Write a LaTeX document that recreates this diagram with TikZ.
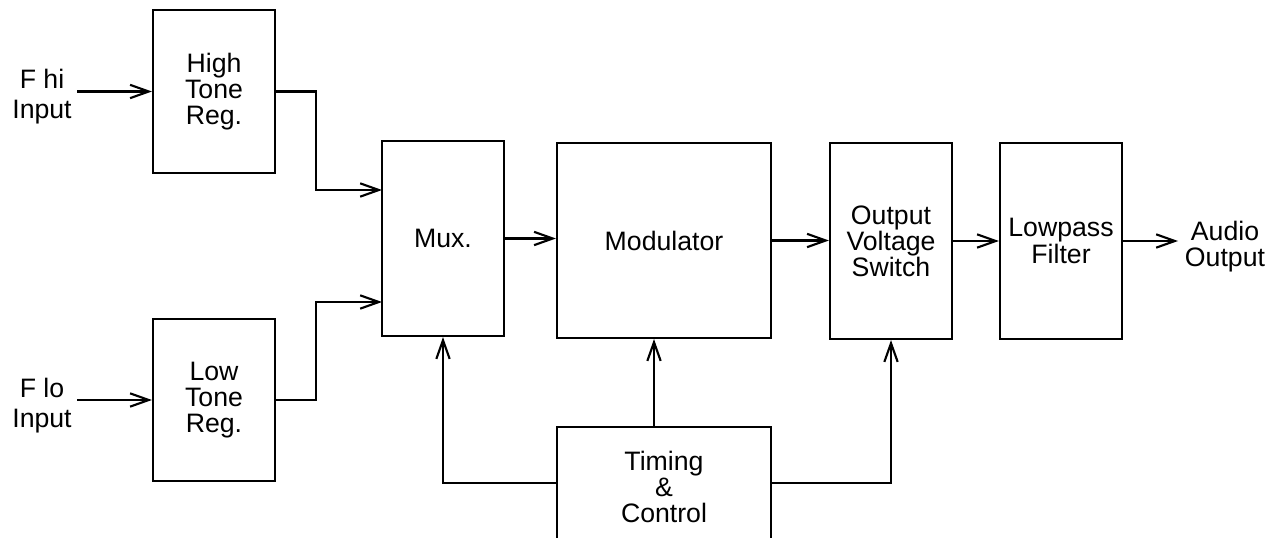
\documentclass[tikz,border=0pt]{standalone}
\usepackage{fontspec}
\setmainfont{Liberation Sans}
\usetikzlibrary{arrows.meta,calc}
\begin{document}
\begin{tikzpicture}[x=0.75pt,y=-0.75pt,
  blk/.style={draw, line width=1.6pt, align=center, inner sep=0pt, font=\fontsize{20}{19.6}\selectfont},
  lbl/.style={align=center, inner sep=0pt, font=\fontsize{20}{22.5}\selectfont},
  conn/.style={line width=1.6pt, -{Straight Barb[length=14pt,width=10pt]}},
  wire/.style={line width=1.6pt}]
\useasboundingbox (0,0) rectangle (1281,538);
\clip (0,0) rectangle (1281,538);
% blocks
\node[blk, minimum width=91.5pt, minimum height=122.25pt] (htr) at (214,91.5) {High\\Tone\\Reg.};
\node[blk, minimum width=91.5pt, minimum height=121.5pt] (ltr) at (214,400) {Low\\Tone\\Reg.};
\node[blk, minimum width=91.5pt, minimum height=146.25pt] (mux) at (443,238.5) {Mux.};
\node[blk, minimum width=160.5pt, minimum height=146.25pt] (mod) at (664,240.5) {Modulator};
\node[blk, minimum width=91.5pt, minimum height=147pt] (ovs) at (891,241) {Output\\Voltage\\Switch};
\node[blk, minimum width=91.5pt, minimum height=147pt] (lpf) at (1061,241) {Lowpass\\Filter};
\node[blk, minimum width=160.5pt, minimum height=90pt] (tc) at (664,487) {Timing\\\&\\Control};
% labels
\node[lbl] (fhi) at (42,97) {F hi\\Input};
\node[lbl] (flo) at (42,406) {F lo\\Input};
\node[blk, draw=none] (aout) at (1225,247) {Audio\\Output};
% coordinates
\coordinate (fhiin) at (77,91.5);
\coordinate (floin) at (77,400);
\coordinate (muxin1) at (382,190);
\coordinate (muxin2) at (382,302);
\coordinate (outend) at (1178,241);
% connectors
\draw[conn] (fhiin) -- (htr.west);
\draw[conn] (floin) -- (ltr.west);
\draw[conn] (htr.east) -- ++(40,0) |- (muxin1);
\draw[conn] (ltr.east) -- ++(40,0) |- (muxin2);
\draw[conn] (mux.east) -- (mod.west |- mux.east);
\draw[conn] (mod.east) -- (ovs.west |- mod.east);
\draw[conn] (ovs.east) -- (lpf.west);
\draw[conn] (lpf.east) -- (outend);
\draw[conn] ([xshift=-7.5pt]tc.north) -- ([xshift=-7.5pt]mod.south);
\draw[conn] ([yshift=3pt]tc.west) -| (mux.south);
\draw[conn] ([yshift=3pt]tc.east) -| (ovs.south);
\end{tikzpicture}
\end{document}
